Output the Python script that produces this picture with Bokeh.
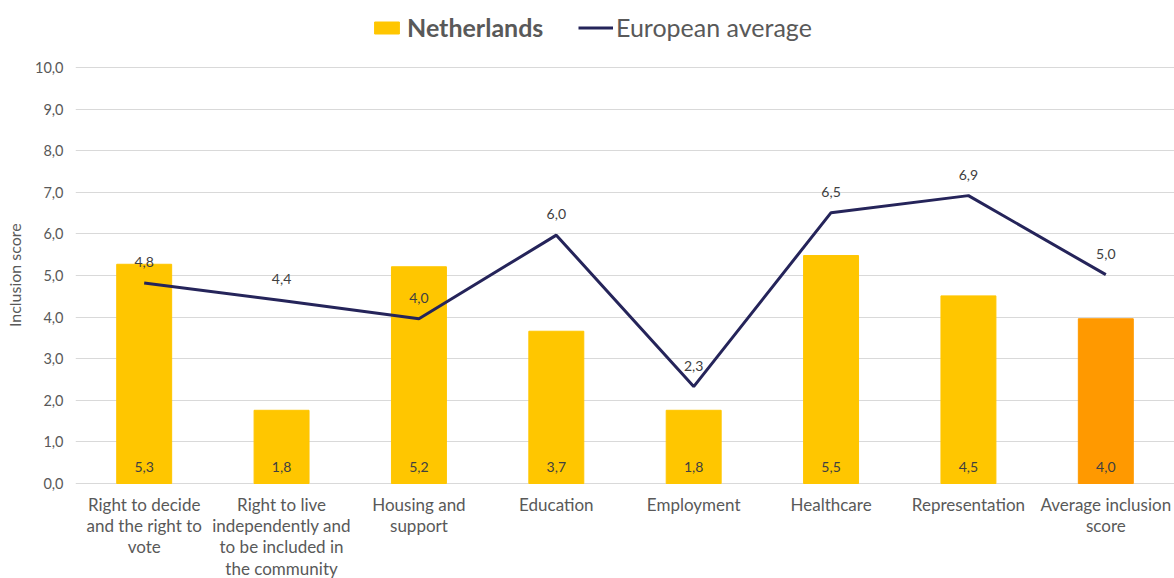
from bokeh.plotting import figure
from bokeh.models import (ColumnDataSource, FixedTicker, Legend, LegendItem,
                          Range1d)
from bokeh.core.properties import value
from bokeh.embed import file_html
from bokeh.resources import INLINE

categories = [
    "Right to decide\nand the right to\nvote",
    "Right to live\nindependently and\nto be included in\nthe community",
    "Housing and\nsupport",
    "Education",
    "Employment",
    "Healthcare",
    "Representation",
    "Average inclusion\nscore",
]
netherlands = [5.27, 1.76, 5.21, 3.66, 1.76, 5.48, 4.51, 3.96]
european_avg = [4.82, 4.40, 3.96, 5.97, 2.33, 6.51, 6.92, 5.02]
bar_colors = ["#FFC600"] * 7 + ["#FF9900"]
y_ticks = [0, 1, 2, 3, 4, 5, 6, 7, 8, 9, 10]

FONT = "Lato"
GREY = "#595959"

def fmt(v):
    return f"{v:.1f}".replace(".", ",")

xs = list(range(len(categories)))

# layout (pixels)
W, H = 1174, 578
TOP_PX, BOTTOM_PX, LEFT = 67, 95, 75
PPU = (H - TOP_PX - BOTTOM_PX) / 10.0

src = ColumnDataSource(dict(
    x=xs, nl=netherlands, eu=european_avg, color=bar_colors,
    nl_lbl=[fmt(v) for v in netherlands],
    eu_lbl=[fmt(v) for v in european_avg],
    zero=[0] * len(xs),
    cat=categories,
))

p = figure(width=W, height=H, output_backend="svg", toolbar_location=None,
           x_range=Range1d(-0.5, len(xs) - 0.5),
           y_range=Range1d(-BOTTOM_PX / PPU, 10 + TOP_PX / PPU),
           min_border_left=LEFT, min_border_right=0, min_border_top=0,
           min_border_bottom=0)
p.outline_line_color = None

bars = p.vbar(x="x", top="nl", width=0.4, color="color", source=src)
line = p.line(x="x", y="eu", line_color="#25245A", line_width=3, source=src)

p.text(x="x", y="zero", text="nl_lbl", source=src, text_align="center",
       text_baseline="middle", y_offset=-17, text_font=value(FONT),
       text_font_size="14px", text_color="#404040")
p.text(x="x", y="eu", text="eu_lbl", source=src, text_align="center",
       text_baseline="middle", y_offset=-21, text_font=value(FONT),
       text_font_size="14px", text_color="#404040")

# category labels below the zero line
p.text(x="x", y="zero", text="cat", source=src, text_align="center",
       text_baseline="top", y_offset=10, text_font=value(FONT),
       text_font_size="17px", text_color=GREY, text_line_height=1.02)

p.xaxis.visible = False

p.yaxis.ticker = FixedTicker(ticks=y_ticks)
p.yaxis.major_label_overrides = {t: f"{t},0" for t in y_ticks}
p.yaxis.major_label_text_font = FONT
p.yaxis.major_label_text_font_size = "14.5px"
p.yaxis.major_label_text_color = GREY
p.yaxis.major_label_standoff = 12
p.yaxis.major_tick_line_color = None
p.yaxis.major_tick_out = 0
p.yaxis.minor_tick_line_color = None
p.yaxis.axis_line_color = None
p.yaxis.axis_label = "\u00a0" * 7 + "Inclusion score"
p.yaxis.axis_label_text_font = FONT
p.yaxis.axis_label_text_font_size = "16px"
p.yaxis.axis_label_text_font_style = "normal"
p.yaxis.axis_label_text_color = GREY
p.yaxis.axis_label_standoff = 8

p.xgrid.grid_line_color = None
p.ygrid.grid_line_color = "#D9D9D9"
p.ygrid.ticker = FixedTicker(ticks=y_ticks)

# legends (inside the frame, above the 10,0 gridline)
LEG_Y = H - 42
leg1 = Legend(items=[LegendItem(label="Netherlands", renderers=[bars], index=0)],
              location=(296, LEG_Y), label_text_font=FONT,
              label_text_font_size="25px", label_text_font_style="bold",
              label_text_color=GREY, glyph_width=31, glyph_height=15,
              padding=0, margin=0, spacing=0, label_standoff=5,
              border_line_color=None, background_fill_alpha=0)
leg2 = Legend(items=[LegendItem(label="European average", renderers=[line])],
              location=(503, LEG_Y), label_text_font=FONT,
              label_text_font_size="25px", label_text_color=GREY,
              glyph_width=35, glyph_height=15,
              padding=0, margin=0, spacing=0, label_standoff=3,
              border_line_color=None, background_fill_alpha=0)
p.add_layout(leg1, "center")
p.add_layout(leg2, "center")

open("out.html", "w").write(file_html(p, INLINE))
